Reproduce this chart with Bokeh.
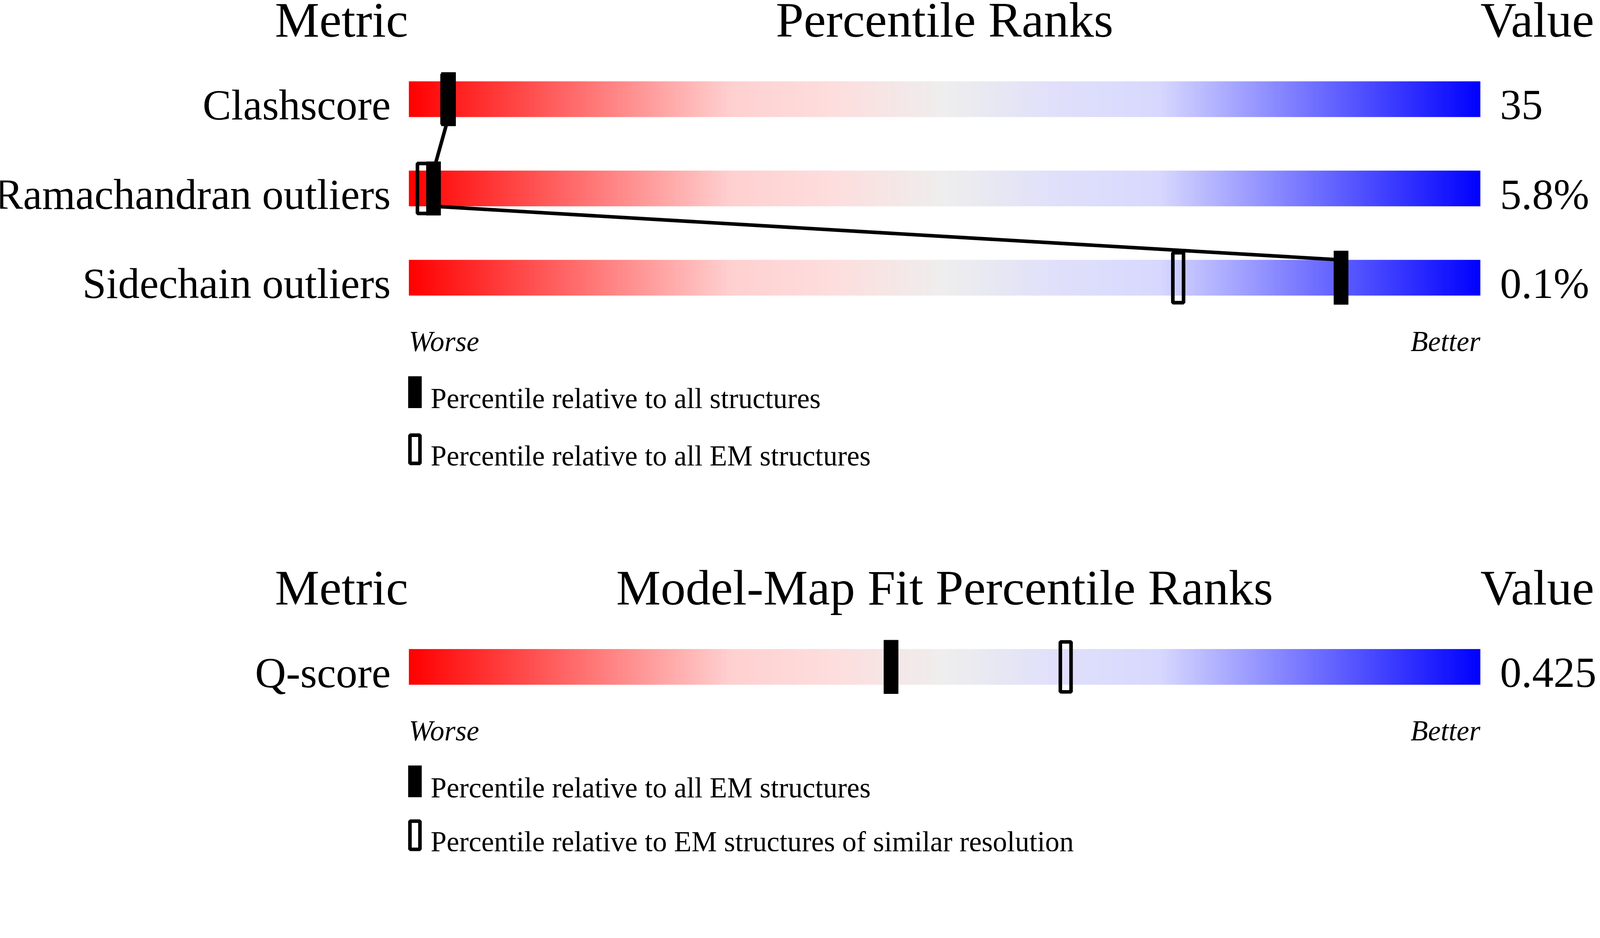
import numpy as np
from bokeh.plotting import figure
from bokeh.models import Range1d
from bokeh.core.properties import value
from bokeh.embed import file_html
from bokeh.resources import INLINE

# ---------------- data ----------------
geom_metrics = ["Clashscore", "Ramachandran outliers", "Sidechain outliers"]
geom_values = ["35", "5.8%", "0.1%"]
geom_pct_all = [3.7, 2.3, 87.0]        # percentile relative to all structures (filled)
geom_pct_em = [3.6, 1.3, 71.8]         # percentile relative to all EM structures (open)
geom_title = "Percentile Ranks"
geom_legend = ["Percentile relative to all structures",
               "Percentile relative to all EM structures"]

fit_metrics = ["Q-score"]
fit_values = ["0.425"]
fit_pct_all_em = [45.0]                # percentile relative to all EM structures (filled)
fit_pct_similar = [61.3]               # percentile relative to EM structures of similar resolution (open)
fit_title = "Model-Map Fit Percentile Ranks"
fit_legend = ["Percentile relative to all EM structures",
              "Percentile relative to EM structures of similar resolution"]

header_metric = "Metric"
header_value = "Value"
worse_label = "Worse"
better_label = "Better"

# ---------------- layout / style ----------------
S = 1.0937                 # rendered pixels per CSS pixel
MARGIN = 8
W = int(4485 / S) - 2 * MARGIN
H = int(2402 / S) - 2 * MARGIN
BAR_X0 = 1153              # rendered px of percentile 0
PX = 30.0                  # rendered px per percentile
FONT = "Liberation Serif"
BASE_SHIFT = 0.28          # baseline correction, fraction of font size
HEADER_Y = 103
ROW0_TOP = 236
ROW_STEP = 250
BAR_H = 100
MARK_H = 150
PANEL_OFFSETS = [0, 1590]
LEGEND_LIMIT = 2388        # keep the last legend line inside the page


def s(v):
    return v / S


def fs(v):
    return value("%.1fpx" % (v / S))


# gradient colour stops (fraction, r, g, b)
grad_pos = [0.0, 0.30, 0.40, 0.50, 0.60, 0.70, 1.0]
grad_r = [255, 255, 253, 238, 224, 216, 0]
grad_g = [0, 208, 222, 238, 224, 216, 0]
grad_b = [0, 208, 222, 238, 250, 255, 255]

x0_css = BAR_X0 / S - MARGIN
px_css = PX / S
p = figure(width=W, height=H, output_backend="svg", toolbar_location=None,
           x_axis_type=None, y_axis_type=None, min_border=0,
           x_range=Range1d(-x0_css / px_css, (W - x0_css) / px_css),
           y_range=Range1d((H + MARGIN) * S, MARGIN * S))
p.outline_line_color = None
p.background_fill_color = "white"
p.border_fill_color = "white"
p.grid.visible = False

N = 1500
f = np.linspace(0, 1, N)
img = np.empty((1, N), dtype=np.uint32)
view = img.view(dtype=np.uint8).reshape((1, N, 4))
view[0, :, 0] = np.round(np.interp(f, grad_pos, grad_r)).astype(np.uint8)
view[0, :, 1] = np.round(np.interp(f, grad_pos, grad_g)).astype(np.uint8)
view[0, :, 2] = np.round(np.interp(f, grad_pos, grad_b)).astype(np.uint8)
view[0, :, 3] = 255


def txt(x, y, t, size, align="left", style="normal", xoff=0):
    p.text(x=x, y=y, text=t, text_align=align, text_baseline="alphabetic",
           text_font=value(FONT), text_font_size=fs(size),
           text_font_style=style, text_color="black", x_offset=s(xoff),
           y_offset=-s(BASE_SHIFT * size))


def panel(off, title, metrics, values, pct_fill, pct_open, legend, connect):
    n = len(metrics)
    tops = [ROW0_TOP + off + i * ROW_STEP for i in range(n)]
    bottoms = [t + BAR_H for t in tops]
    centers = [t + BAR_H / 2 for t in tops]

    # headers
    txt([0], [HEADER_Y + off], [header_metric], 140, "right", xoff=-2)
    txt([50], [HEADER_Y + off], [title], 140, "center")
    txt([100], [HEADER_Y + off], [header_value], 140, "left")

    # gradient bars
    for t in tops:
        p.image_rgba(image=[img], x=0, y=t, dw=100, dh=BAR_H,
                     anchor="bottom_left")

    # metric labels and values
    txt([0] * n, bottoms, metrics, 120, "right", xoff=-51)
    txt([100] * n, bottoms, values, 120, "left", xoff=55)

    # connecting line between filled markers
    if connect and n > 1:
        lx, ly = [], []
        for i in range(n):
            lx += [pct_fill[i], pct_fill[i]]
            ly += [tops[i], bottoms[i]]
        p.line(lx[1:-1], ly[1:-1], line_color="black", line_width=s(10),
               line_join="round")

    # open markers
    p.rect(x=pct_open, y=centers, width=s(30), height=s(MARK_H - 10),
           width_units="screen", height_units="screen",
           fill_color=None, line_color="black", line_width=s(10))
    # filled markers
    p.rect(x=pct_fill, y=centers, width=s(40), height=s(MARK_H),
           width_units="screen", height_units="screen",
           fill_color="black", line_color="black", line_width=1)

    # worse / better
    last = bottoms[-1]
    txt([0], [last + 151], [worse_label], 80, "left", "italic")
    txt([100], [last + 151], [better_label], 80, "right", "italic")

    # legend
    b1 = last + 311
    b2 = min(last + 471, LEGEND_LIMIT)
    p.quad(left=[-2 / PX], right=[36 / PX], top=[b1 - 85], bottom=[b1 + 4],
           fill_color="black", line_color=None)
    p.quad(left=[3 / PX], right=[31 / PX], top=[b2 - 80], bottom=[b2 - 1],
           fill_color=None, line_color="black", line_width=s(10))
    txt([0], [b1], [legend[0]], 80, "left", xoff=61)
    txt([0], [b2], [legend[1]], 80, "left", xoff=61)


panel(PANEL_OFFSETS[0], geom_title, geom_metrics, geom_values,
      geom_pct_all, geom_pct_em, geom_legend, True)
panel(PANEL_OFFSETS[1], fit_title, fit_metrics, fit_values,
      fit_pct_all_em, fit_pct_similar, fit_legend, False)

open("out.html", "w").write(file_html(p, INLINE))
